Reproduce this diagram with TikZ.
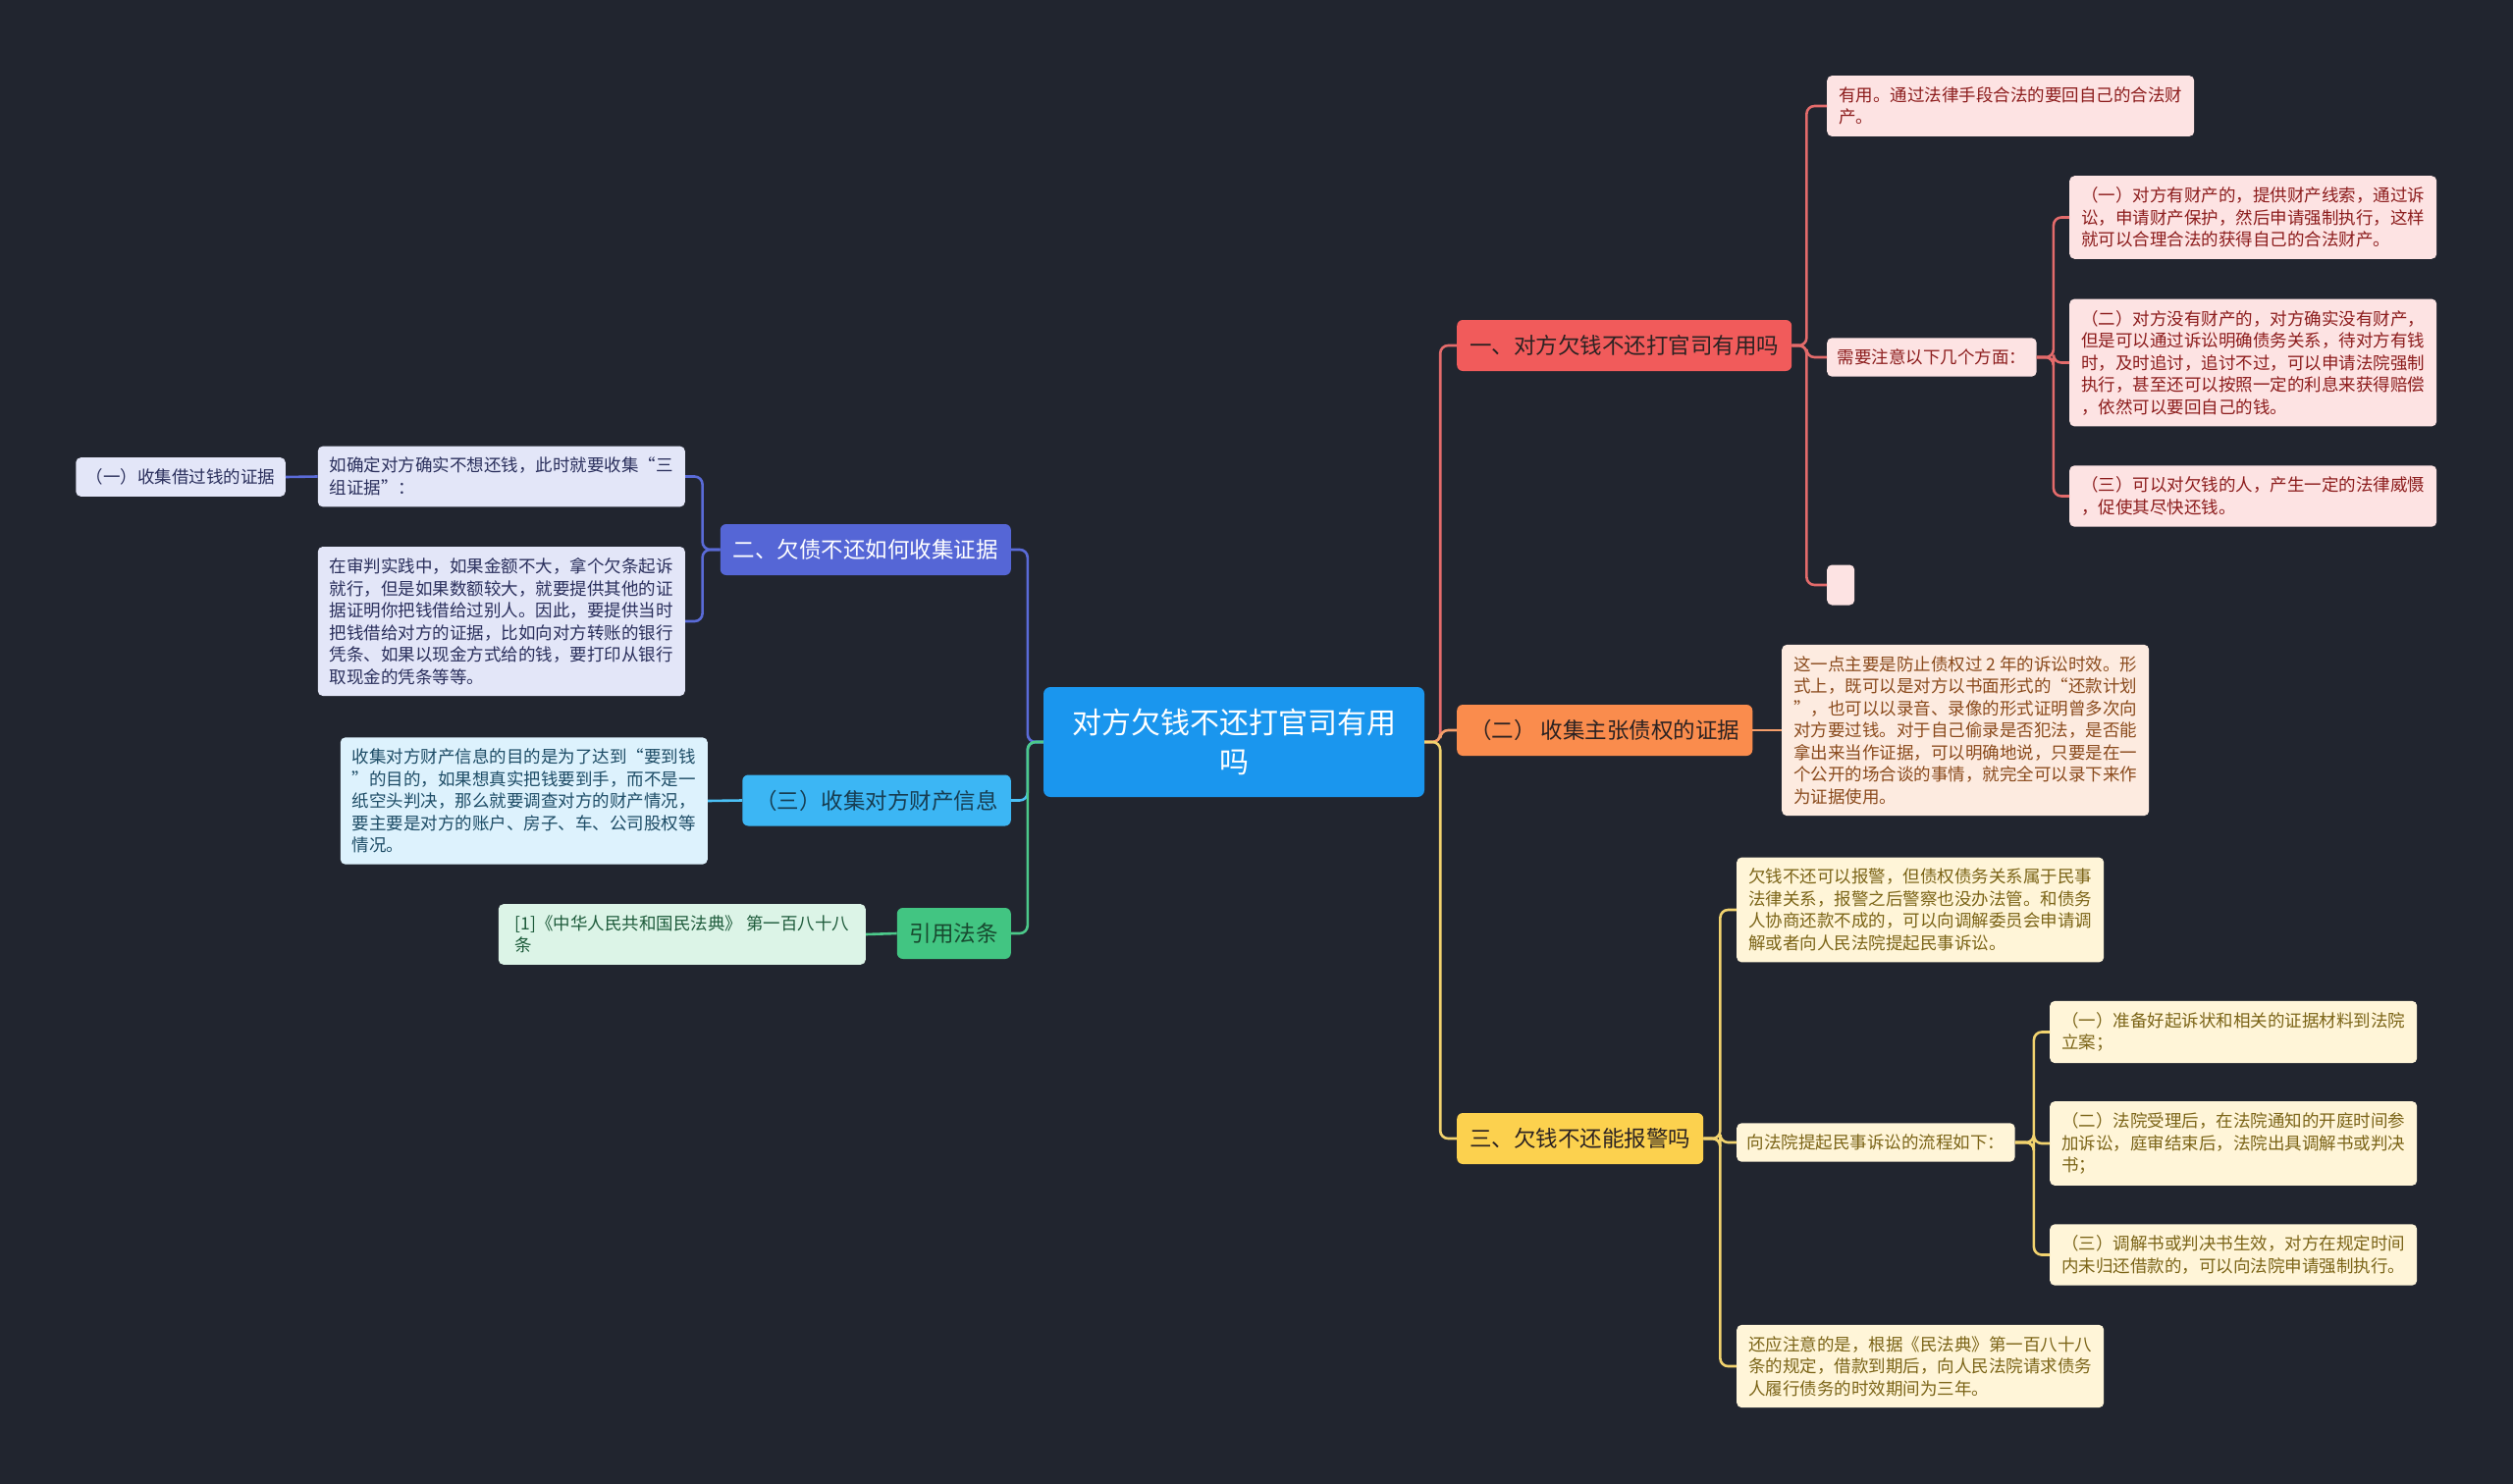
\documentclass[tikz,border=0pt]{standalone}
\usepackage{fontspec}
\setmainfont{Noto Sans CJK SC}

\definecolor{bg}{HTML}{21252F}
\definecolor{rootc}{HTML}{1A96EE}
\definecolor{redc}{HTML}{F15B5B}
\definecolor{redl}{HTML}{E46B6B}
\definecolor{redleafc}{HTML}{FDE3E3}
\definecolor{redtxt}{HTML}{8C1C1C}
\definecolor{orac}{HTML}{FA8C4D}
\definecolor{oral}{HTML}{F59E6A}
\definecolor{oraleafc}{HTML}{FDEBE0}
\definecolor{oratxt}{HTML}{8A4A1C}
\definecolor{yelc}{HTML}{FCD14E}
\definecolor{yell}{HTML}{F2D36E}
\definecolor{yelleafc}{HTML}{FFF5D8}
\definecolor{yeltxt}{HTML}{7B6417}
\definecolor{indc}{HTML}{5566D6}
\definecolor{indl}{HTML}{5A6BD8}
\definecolor{indleafc}{HTML}{E3E6F8}
\definecolor{indtxt}{HTML}{2A2F5C}
\definecolor{skyc}{HTML}{3CB6F4}
\definecolor{skyl}{HTML}{4BC0F5}
\definecolor{skyleafc}{HTML}{DDF2FD}
\definecolor{skytxt}{HTML}{1D4C66}
\definecolor{grnc}{HTML}{42C582}
\definecolor{grnl}{HTML}{4CC98A}
\definecolor{grnleafc}{HTML}{DCF4E7}
\definecolor{grntxt}{HTML}{1E5B3B}
\definecolor{darktxt}{HTML}{2B2222}

\begin{document}
\begin{tikzpicture}[x=1pt,y=-1pt,
topic/.style={font=\fontsize{22.5}{27}\selectfont,minimum height=52pt,inner xsep=13pt,rounded corners=6pt,text=darktxt},
leaf/.style={font=\fontsize{17.5}{22.5}\selectfont,align=left,inner xsep=10.5pt,inner ysep=11.5pt,rounded corners=5pt},
wide/.style={minimum width=374pt},
redleaf/.style={leaf,fill=redleafc,text=redtxt},
oraleaf/.style={leaf,fill=oraleafc,text=oratxt},
yelleaf/.style={leaf,fill=yelleafc,text=yeltxt},
indleaf/.style={leaf,fill=indleafc,text=indtxt},
skyleaf/.style={leaf,fill=skyleafc,text=skytxt},
grnleaf/.style={leaf,fill=grnleafc,text=grntxt},
link/.style={line width=2.6pt,rounded corners=8pt}]

\fill[bg] (0,0) rectangle (2560,1512);
\useasboundingbox (0,0) rectangle (2560,1512);

% centre
\node[fill=rootc,text=white,font=\fontsize{30}{40}\selectfont,align=center,
  minimum width=388pt,minimum height=112pt,rounded corners=7pt] (root) at (1257,756)
  {对方欠钱不还打官司有用\\吗};

% right side
\node[topic,fill=redc,anchor=west] (red) at (1484,352) {一、对方欠钱不还打官司有用吗};
\node[topic,fill=orac,anchor=west] (ora) at (1484,744) {（二） 收集主张债权的证据};
\node[topic,fill=yelc,anchor=west] (yel) at (1484,1160) {三、欠钱不还能报警吗};

\node[redleaf,wide,anchor=west] (useful) at (1861,108)
  {有用。通过法律手段合法的要回自己的合法财\\产。};
\node[redleaf,anchor=west] (notice) at (1861,364) {需要注意以下几个方面：};
\node[redleaf,anchor=west,minimum width=28pt,minimum height=41pt,inner sep=0pt] (blank) at (1861,596) {};
\node[redleaf,wide,anchor=west] (asset) at (2108,221.5)
  {（一）对方有财产的，提供财产线索，通过诉\\讼，申请财产保护，然后申请强制执行，这样\\就可以合理合法的获得自己的合法财产。};
\node[redleaf,wide,anchor=west] (noasset) at (2108,369.5)
  {（二）对方没有财产的，对方确实没有财产，\\但是可以通过诉讼明确债务关系，待对方有钱\\时，及时追讨，追讨不过，可以申请法院强制\\执行，甚至还可以按照一定的利息来获得赔偿\\，依然可以要回自己的钱。};
\node[redleaf,wide,anchor=west] (deter) at (2108,505.5)
  {（三）可以对欠钱的人，产生一定的法律威慑\\，促使其尽快还钱。};

\node[oraleaf,wide,anchor=west] (record) at (1815,744)
  {这一点主要是防止债权过 2 年的诉讼时效。形\\式上，既可以是对方以书面形式的“还款计划\\”，也可以以录音、录像的形式证明曾多次向\\对方要过钱。对于自己偷录是否犯法，是否能\\拿出来当作证据，可以明确地说，只要是在一\\个公开的场合谈的事情，就完全可以录下来作\\为证据使用。};

\node[yelleaf,wide,anchor=west] (police) at (1769,927)
  {欠钱不还可以报警，但债权债务关系属于民事\\法律关系，报警之后警察也没办法管。和债务\\人协商还款不成的，可以向调解委员会申请调\\解或者向人民法院提起民事诉讼。};
\node[yelleaf,anchor=west] (suit) at (1769,1164) {向法院提起民事诉讼的流程如下：};
\node[yelleaf,wide,anchor=west] (stepa) at (2088,1051.5)
  {（一）准备好起诉状和相关的证据材料到法院\\立案；};
\node[yelleaf,wide,anchor=west] (stepb) at (2088,1165)
  {（二）法院受理后，在法院通知的开庭时间参\\加诉讼，庭审结束后，法院出具调解书或判决\\书；};
\node[yelleaf,wide,anchor=west] (stepc) at (2088,1278.5)
  {（三）调解书或判决书生效，对方在规定时间\\内未归还借款的，可以向法院申请强制执行。};
\node[yelleaf,wide,anchor=west] (limit) at (1769,1392)
  {还应注意的是，根据《民法典》第一百八十八\\条的规定，借款到期后，向人民法院请求债务\\人履行债务的时效期间为三年。};

% left side
\node[topic,fill=indc,text=white,anchor=east] (ind) at (1030,560) {二、欠债不还如何收集证据};
\node[topic,fill=skyc,text=skytxt!80!black,anchor=east] (sky) at (1030,815.5) {（三）收集对方财产信息};
\node[topic,fill=grnc,text=grntxt!80!black,anchor=east] (grn) at (1030,951) {引用法条};

\node[indleaf,wide,anchor=east] (three) at (698,485.5)
  {如确定对方确实不想还钱，此时就要收集“三\\组证据”：};
\node[indleaf,anchor=east] (loan) at (291,486) {（一）收集借过钱的证据};
\node[indleaf,wide,anchor=east] (court) at (698,633)
  {在审判实践中，如果金额不大，拿个欠条起诉\\就行，但是如果数额较大，就要提供其他的证\\据证明你把钱借给过别人。因此，要提供当时\\把钱借给对方的证据，比如向对方转账的银行\\凭条、如果以现金方式给的钱，要打印从银行\\取现金的凭条等等。};
\node[skyleaf,wide,anchor=east] (info) at (721,816)
  {收集对方财产信息的目的是为了达到“要到钱\\”的目的，如果想真实把钱要到手，而不是一\\纸空头判决，那么就要调查对方的财产情况，\\要主要是对方的账户、房子、车、公司股权等\\情况。};
\node[grnleaf,wide,anchor=east] (law) at (882,952)
  {[1]《中华人民共和国民法典》 第一百八十八\\条};

% links
\draw[link,redl] (root.east) -- ++(16,0) |- (red.west);
\draw[link,oral] (root.east) -- ++(16,0) |- (ora.west);
\draw[link,yell] (root.east) -- ++(16,0) |- (yel.west);
\draw[link,indl] (root.west) -- ++(-16,0) |- (ind.east);
\draw[link,skyl] (root.west) -- ++(-16,0) |- (sky.east);
\draw[link,grnl] (root.west) -- ++(-16,0) |- (grn.east);

\foreach \n in {useful,notice,blank}
  \draw[link,redl] (red.east) -- ++(15,0) |- (\n.west);
\foreach \n in {asset,noasset,deter}
  \draw[link,redl] (notice.east) -- ++(17,0) |- (\n.west);
\draw[link,oral] (ora.east) -- (record.west);
\foreach \n in {police,suit,limit}
  \draw[link,yell] (yel.east) -- ++(17,0) |- (\n.west);
\foreach \n in {stepa,stepb,stepc}
  \draw[link,yell] (suit.east) -- ++(19,0) |- (\n.west);
\foreach \n in {three,court}
  \draw[link,indl] (ind.west) -- ++(-18,0) |- (\n.east);
\draw[link,indl] (three.west) -- (loan.east);
\draw[link,skyl] (sky.west) -- (info.east);
\draw[link,grnl] (grn.west) -- (law.east);

\end{tikzpicture}
\end{document}
